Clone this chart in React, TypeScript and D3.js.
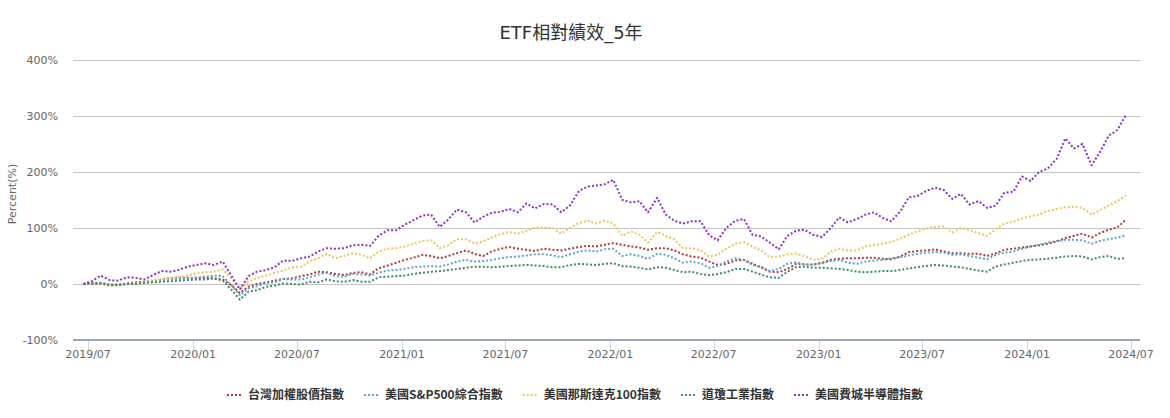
import React, { useEffect, useRef } from 'react';
import * as d3 from 'd3';

const TITLE = 'ETF相對績效_5年';
const Y_AXIS_TITLE = 'Percent(%)';
const Y_TICKS = [-100, 0, 100, 200, 300, 400];
const X_TICK_LABELS = [
  '2019/07', '2020/01', '2020/07', '2021/01', '2021/07', '2022/01',
  '2022/07', '2023/01', '2023/07', '2024/01', '2024/07',
];

// Half-monthly observations, starting late June 2019
const START_DATE = new Date(2019, 5, 23);
const STEP_DAYS = 15.22;

const SERIES_NAMES = ['台灣加權股價指數', '美國S&P500綜合指數', '美國那斯達克100指數', '道瓊工業指數', '美國費城半導體指數'];
const SERIES_COLORS = ['#b23a3e', '#5ba7c9', '#e9c75b', '#3f8a6c', '#8e2fc8'];

const taiex = [
  0, 0, 1, -2, -1, 1, 3, 4, 5, 8, 10, 12, 11, 10, 11, 10, 8, -2, -16, -5,
  0, 3, 6, 9, 10, 14, 17, 22, 21, 18, 16, 20, 21, 17, 28, 33, 38, 43, 47, 52,
  50, 46, 50, 55, 60, 54, 50, 58, 63, 66, 63, 61, 59, 63, 61, 60, 63, 66, 68, 67,
  70, 73, 70, 67, 65, 61, 64, 64, 60, 53, 49, 47, 40, 34, 36, 42, 43, 36, 30, 22,
  21, 27, 36, 35, 35, 38, 43, 45, 46, 46, 47, 47, 45, 44, 49, 57, 59, 60, 62, 58,
  55, 55, 54, 54, 50, 55, 61, 63, 65, 67, 69, 72, 76, 82, 86, 90, 83, 91, 97, 101,
  115,
];
const sp500 = [
  0, 1, 2, -1, -1, 1, 1, 3, 5, 7, 8, 9, 10, 12, 13, 15, 14, -2, -20, -8,
  -4, 2, 3, 9, 8, 8, 12, 17, 20, 14, 13, 18, 17, 15, 20, 24, 25, 27, 30, 31,
  32, 31, 35, 40, 43, 40, 41, 43, 46, 48, 49, 51, 53, 53, 51, 48, 53, 58, 60, 58,
  62, 63, 50, 53, 50, 45, 54, 52, 46, 38, 40, 37, 29, 32, 40, 46, 43, 34, 30, 23,
  27, 36, 39, 35, 34, 37, 41, 43, 38, 36, 40, 42, 43, 46, 48, 51, 54, 56, 57, 56,
  52, 53, 50, 47, 44, 52, 56, 58, 63, 67, 70, 74, 77, 79, 79, 78, 72, 77, 80, 83,
  87,
];
const nasdaq100 = [
  0, 1, 2, -4, -2, 0, 1, 3, 7, 8, 10, 12, 15, 19, 21, 22, 26, 10, -8, 4,
  11, 15, 20, 24, 30, 31, 40, 46, 54, 46, 50, 55, 52, 46, 58, 63, 64, 67, 72, 77,
  78, 64, 69, 80, 80, 72, 76, 83, 89, 93, 90, 95, 101, 101, 100, 90, 100, 109, 113, 108,
  113, 108, 86, 94, 88, 74, 93, 86, 80, 64, 64, 60, 49, 52, 63, 72, 75, 66, 60, 48,
  49, 53, 54, 50, 43, 45, 58, 63, 60, 60, 67, 70, 72, 75, 81, 88, 94, 99, 102, 103,
  92, 100, 96, 91, 86, 98, 108, 111, 117, 121, 124, 130, 134, 137, 138, 136, 124, 132, 140, 148,
  158,
];
const dowJones = [
  0, 1, 2, -2, -2, 0, 0, 2, 3, 4, 5, 6, 7, 8, 8, 10, 6, -10, -28, -14,
  -11, -5, -3, 1, 0, -1, 4, 3, 8, 5, 4, 7, 4, 4, 12, 13, 14, 15, 18, 20,
  22, 23, 25, 27, 29, 31, 31, 30, 31, 32, 33, 34, 33, 32, 30, 30, 34, 36, 35, 34,
  36, 37, 32, 31, 29, 26, 30, 29, 25, 21, 22, 18, 16, 18, 21, 27, 27, 22, 17, 12,
  11, 22, 30, 31, 29, 29, 28, 27, 25, 22, 21, 22, 23, 23, 25, 28, 30, 32, 34, 33,
  31, 30, 27, 24, 22, 31, 35, 38, 41, 43, 44, 45, 47, 49, 50, 49, 44, 48, 50, 45,
  46,
];
const sox = [
  0, 5, 15, 7, 6, 12, 11, 8, 16, 23, 22, 25, 31, 34, 37, 34, 40, 15, -10, 14,
  22, 25, 30, 42, 41, 46, 49, 58, 64, 63, 64, 69, 70, 68, 86, 96, 96, 106, 114, 122,
  124, 102, 115, 133, 128, 110, 120, 127, 129, 134, 128, 144, 135, 143, 142, 128, 140, 166, 174, 176,
  178, 186, 150, 146, 148, 128, 154, 124, 113, 108, 112, 112, 87, 78, 100, 113, 116, 88, 85, 74,
  62, 86, 95, 97, 88, 84, 100, 119, 110, 116, 124, 128, 118, 112, 130, 155, 157, 166, 172, 168,
  152, 161, 142, 148, 136, 140, 163, 165, 192, 184, 200, 206, 224, 260, 242, 250, 212, 236, 265, 275,
  302,
];

const SERIES_VALUES = [taiex, sp500, nasdaq100, dowJones, sox];

const WIDTH = 1170;
const HEIGHT = 418;
const PLOT_LEFT = 73;
const PLOT_RIGHT = 1140;
const PLOT_TOP = 60;
const PLOT_BOTTOM = 340;
const CENTER_X = 575;

const AXIS_FONT = '"DejaVu Sans", "Noto Sans CJK TC", sans-serif';
const TITLE_FONT = '"DejaVu Sans", "Noto Sans CJK TC", sans-serif';
const LEGEND_FONT = '"Noto Sans CJK TC", sans-serif';

export default function App() {
  const ref = useRef<SVGSVGElement | null>(null);

  useEffect(() => {
    const svg = d3.select(ref.current);
    svg.selectAll('*').remove();

    const parseMonth = d3.timeParse('%Y/%m');
    const tickDates = X_TICK_LABELS.map((s) => parseMonth(s) as Date);
    const dates = taiex.map((_, k) => d3.timeDay.offset(START_DATE, Math.round(k * STEP_DAYS)));

    const x = d3
      .scaleTime()
      .domain([tickDates[0], tickDates[tickDates.length - 1]])
      .range([88, 1131]);
    const y = d3.scaleLinear().domain([-100, 400]).range([PLOT_BOTTOM, PLOT_TOP]);

    // Title
    svg
      .append('text')
      .attr('x', CENTER_X - 4)
      .attr('y', 39)
      .attr('text-anchor', 'middle')
      .attr('font-family', TITLE_FONT)
      .attr('font-size', 18)
      .attr('fill', '#333333')
      .text(TITLE);

    // Horizontal grid lines
    const grid = svg.append('g');
    Y_TICKS.filter((t) => t !== -100).forEach((t) => {
      grid
        .append('line')
        .attr('x1', PLOT_LEFT)
        .attr('x2', PLOT_RIGHT)
        .attr('y1', Math.round(y(t)) + 0.5)
        .attr('y2', Math.round(y(t)) + 0.5)
        .attr('stroke', '#c4c4c4')
        .attr('stroke-width', 1);
    });

    // Y axis labels
    const yLabels = svg.append('g');
    Y_TICKS.forEach((t) => {
      yLabels
        .append('text')
        .attr('x', 58)
        .attr('y', y(t) + 4)
        .attr('text-anchor', 'end')
        .attr('font-family', AXIS_FONT)
        .attr('font-size', 11)
        .attr('fill', '#666666')
        .text(`${t}%`);
    });

    // Y axis title
    svg
      .append('text')
      .attr('transform', `translate(16, ${(PLOT_TOP + PLOT_BOTTOM) / 2 - 6}) rotate(-90)`)
      .attr('text-anchor', 'middle')
      .attr('font-family', AXIS_FONT)
      .attr('font-size', 11)
      .attr('fill', '#666666')
      .text(Y_AXIS_TITLE);

    // X axis ticks and labels
    const xAxis = svg.append('g');
    tickDates.forEach((d, i) => {
      const px = Math.round(x(d)) + 0.5;
      xAxis
        .append('line')
        .attr('x1', px)
        .attr('x2', px)
        .attr('y1', PLOT_BOTTOM)
        .attr('y2', PLOT_BOTTOM + 10)
        .attr('stroke', '#ccd6eb')
        .attr('stroke-width', 1);
      xAxis
        .append('text')
        .attr('x', x(d))
        .attr('y', 358)
        .attr('text-anchor', 'middle')
        .attr('font-family', AXIS_FONT)
        .attr('font-size', 11)
        .attr('fill', '#666666')
        .text(X_TICK_LABELS[i]);
    });

    // X axis line
    svg
      .append('line')
      .attr('x1', PLOT_LEFT)
      .attr('x2', PLOT_RIGHT)
      .attr('y1', PLOT_BOTTOM)
      .attr('y2', PLOT_BOTTOM)
      .attr('stroke', '#9aa6ba')
      .attr('stroke-width', 2);

    // Series lines
    const line = d3
      .line<number>()
      .x((_, i) => x(dates[i]))
      .y((v) => y(v));

    const seriesG = svg.append('g');
    SERIES_VALUES.forEach((vals, i) => {
      seriesG
        .append('path')
        .attr('d', line(vals) as string)
        .attr('fill', 'none')
        .attr('stroke', SERIES_COLORS[i])
        .attr('stroke-width', 2)
        .attr('stroke-dasharray', '2,2')
        .attr('stroke-linejoin', 'round');
    });

    // Legend
    const legend = svg.append('g');
    const items = SERIES_NAMES.map((name, i) => {
      const g = legend.append('g');
      g.append('path')
        .attr('d', 'M0,0H16')
        .attr('stroke', SERIES_COLORS[i])
        .attr('stroke-width', 2)
        .attr('stroke-dasharray', '2,2');
      const t = g
        .append('text')
        .attr('x', 21)
        .attr('y', 4)
        .attr('font-family', LEGEND_FONT)
        .attr('font-size', 12)
        .attr('font-weight', 'bold')
        .attr('fill', '#333333')
        .text(name);
      const w = (t.node() as SVGTextElement).getComputedTextLength();
      return { g, width: 21 + w };
    });
    const gap = 20;
    const total = items.reduce((s, it) => s + it.width, 0) + gap * (items.length - 1);
    let cx = CENTER_X - total / 2;
    items.forEach((it) => {
      it.g.attr('transform', `translate(${cx}, 395)`);
      cx += it.width + gap;
    });
  }, []);

  return (
    <svg
      ref={ref}
      width={WIDTH}
      height={HEIGHT}
      style={{ position: 'absolute', left: 0, top: 0, background: '#ffffff' }}
    />
  );
}
